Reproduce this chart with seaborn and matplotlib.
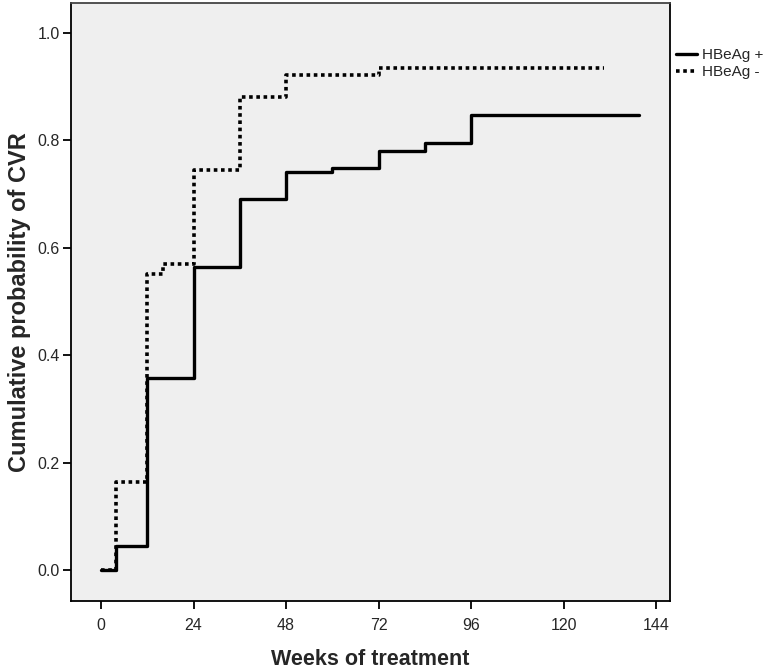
import seaborn as sns
import matplotlib.pyplot as plt
import pandas as pd

# Kaplan-Meier style cumulative CVR curves
pos_weeks = [0, 4, 12, 24, 36, 48, 60, 72, 84, 96, 139.5]
pos_cvr = [0.0, 0.044, 0.357, 0.565, 0.69, 0.742, 0.749, 0.78, 0.795, 0.848, 0.848]

neg_weeks = [0, 4, 12, 16, 24, 36, 48, 72, 130.5]
neg_cvr = [0.0, 0.163, 0.551, 0.569, 0.745, 0.88, 0.922, 0.935, 0.935]

x_ticks = [0, 24, 48, 72, 96, 120, 144]
y_ticks = [0.0, 0.2, 0.4, 0.6, 0.8, 1.0]

sns.set_style("white")
plt.rcParams['font.family'] = ['Liberation Sans', 'DejaVu Sans']

pos = pd.DataFrame({"weeks": pos_weeks, "cvr": pos_cvr})
neg = pd.DataFrame({"weeks": neg_weeks, "cvr": neg_cvr})

fig = plt.figure(figsize=(7.75, 6.69), dpi=100)
ax = fig.add_axes([71 / 775, 1 - 601 / 669, 599 / 775, 598 / 669])
ax.set_facecolor("#efefef")

sns.lineplot(data=neg, x="weeks", y="cvr", ax=ax, estimator=None,
             color="black", linewidth=2.6, linestyle=(0, (1, 1)),
             drawstyle="steps-post", label="HBeAg -")
sns.lineplot(data=pos, x="weeks", y="cvr", ax=ax, estimator=None,
             color="black", linewidth=2.4, drawstyle="steps-post",
             label="HBeAg +")

ax.set_xlim(-7.8, 147.6)
ax.set_ylim(-0.058, 1.056)
ax.set_xticks(x_ticks)
ax.set_yticks(y_ticks)
ax.set_yticklabels([f"{v:.1f}" for v in y_ticks], fontsize=11.5)
ax.set_xticklabels([str(v) for v in x_ticks], fontsize=11.5)
ax.tick_params(axis="both", direction="out", length=6, width=1.3,
               color="black", pad=2, bottom=True, left=True)
ax.tick_params(axis="x", pad=6)

for side in ["left", "bottom", "right", "top"]:
    ax.spines[side].set_color("black")
    ax.spines[side].set_linewidth(1.3)
ax.spines["top"].set_color("#444444")

ax.set_xlabel("Weeks of treatment", fontsize=15.5, fontweight="bold", labelpad=12)
ax.set_ylabel("Cumulative probability of CVR", fontsize=17, fontweight="bold",
              labelpad=5)

handles, labels = ax.get_legend_handles_labels()
ax.get_legend().remove()
fig.legend(handles[::-1], labels[::-1], loc="upper left",
           bbox_to_anchor=(676 / 775, 1 - 48 / 669), frameon=False,
           fontsize=11, handlelength=1.4, handletextpad=0.3,
           labelspacing=0.2, borderaxespad=0, borderpad=0)

fig.savefig("out.png", dpi=100)
